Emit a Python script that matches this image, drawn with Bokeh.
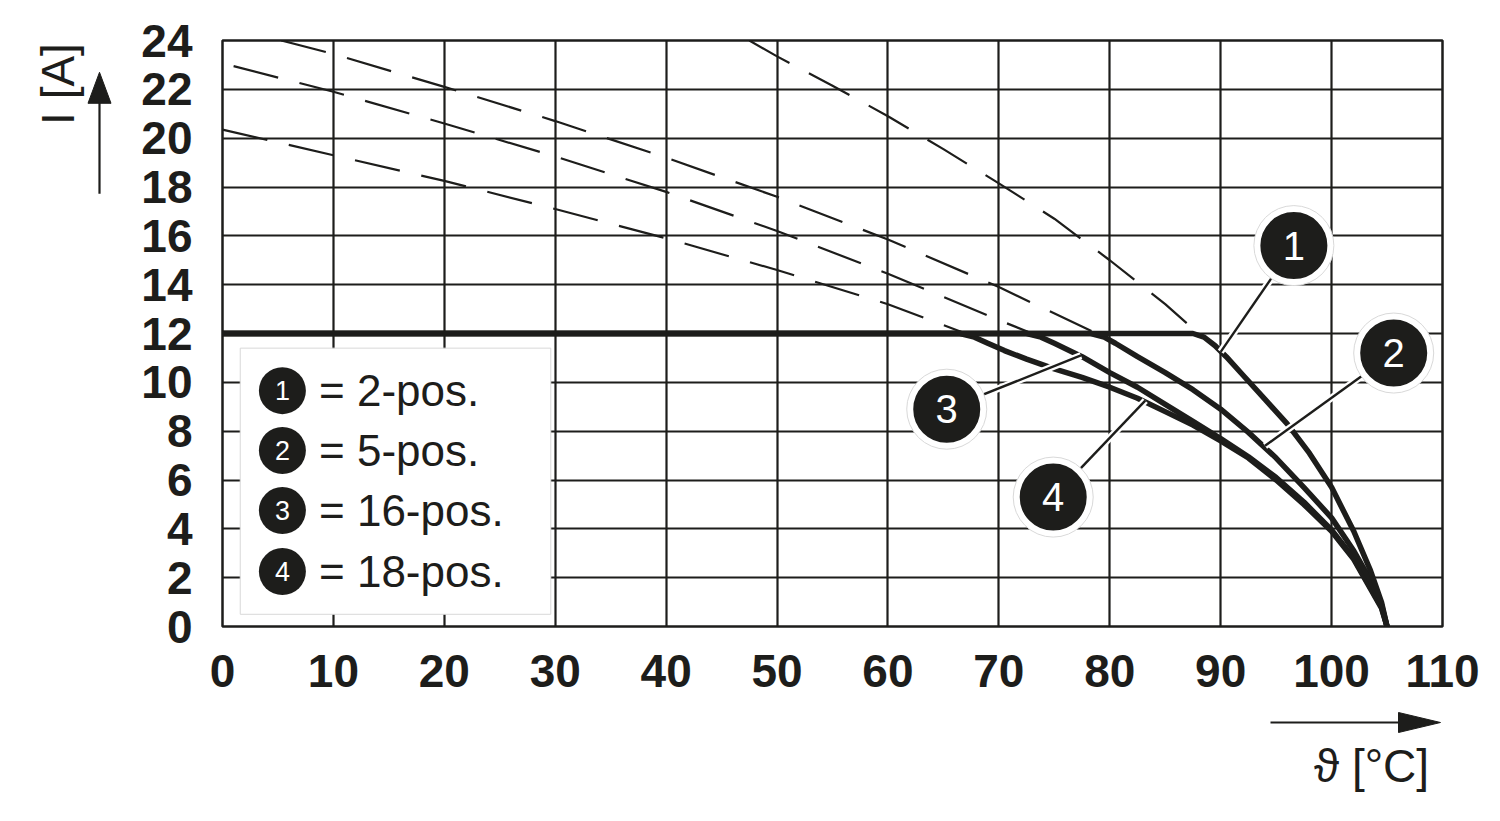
from bokeh.plotting import figure
from bokeh.models import Range1d
from bokeh.layouts import row, column
from bokeh.core.properties import value
from bokeh.embed import file_html
from bokeh.resources import INLINE
import math

# ---------------- data ----------------
temp_ticks = list(range(0, 111, 10))
current_ticks = list(range(0, 25, 2))

# dashed (extrapolated) parts above 12 A
dash1_t = [47.5, 50, 55, 60, 65, 70, 75, 80, 85, 88]
dash1_i = [24.0, 23.35, 22.15, 20.9, 19.55, 18.15, 16.7, 15.0, 13.2, 12.0]
dash2_t = [5.3, 10, 20, 30, 40, 50, 60, 70, 78.8]
dash2_i = [24.0, 23.45, 22.1, 20.7, 19.2, 17.6, 15.85, 13.9, 12.0]
dash3_t = [1, 10, 20, 30, 40, 50, 60, 70, 73]
dash3_i = [22.95, 21.9, 20.6, 19.25, 17.8, 16.2, 14.45, 12.55, 12.0]
dash4_t = [0, 10, 20, 30, 40, 50, 60, 67]
dash4_i = [20.35, 19.3, 18.25, 17.1, 15.9, 14.6, 13.2, 12.0]

# solid derating curves
sol1_t = [0, 87.5, 88.5, 89.5, 90.5, 92, 94, 96, 98, 100, 102, 103.5, 104.5, 105]
sol1_i = [12, 12, 11.85, 11.5, 11.05, 10.3, 9.3, 8.3, 7.1, 5.7, 3.9, 2.3, 1.0, 0]
sol2_t = [0, 78.3, 79.5, 80.5, 82.5, 85, 87.5, 90, 92.5, 95, 97.5, 100, 102, 103.5, 104.5, 105]
sol2_i = [12, 12, 11.85, 11.6, 11.05, 10.4, 9.7, 8.9, 7.95, 6.9, 5.7, 4.45, 3.1, 1.9, 0.9, 0]
sol3_t = [0, 72.5, 73.8, 75, 77.5, 80, 82.5, 85, 87.5, 90, 92.5, 95, 97.5, 100, 102, 103.5, 104.5, 105]
sol3_i = [12, 12, 11.85, 11.6, 11.05, 10.4, 9.8, 9.1, 8.4, 7.7, 6.95, 6.1, 5.1, 3.95, 2.8, 1.6, 0.8, 0]
sol4_t = [0, 66.5, 67.8, 69, 70.5, 72.5, 75, 77.5, 80, 82.5, 85, 87.5, 90, 92.5, 95, 97.5, 100, 102, 103.5, 104.5, 105]
sol4_i = [12, 12, 11.85, 11.6, 11.3, 10.95, 10.55, 10.2, 9.8, 9.35, 8.8, 8.25, 7.6, 6.9, 6.0, 5.0, 3.9, 2.75, 1.55, 0.75, 0]

series_ids = ["1", "2", "3", "4"]
series_names = ["= 2-pos.", "= 5-pos.", "= 16-pos.", "= 18-pos."]

# callout bubbles (position) and leader target on curve
callout_t = [96.6, 105.6, 65.3, 74.9]
callout_i = [15.6, 11.2, 8.9, 5.3]
leader_t = [90.0, 94.0, 77.4, 83.2]
leader_i = [11.25, 7.4, 11.1, 9.25]

INK = "#1d1d1b"
FONT = "Liberation Sans"

LEFT_W = 120
TOTAL_W = 1492
MAIN_H = 700
BOTTOM_H = 113

p = figure(width=TOTAL_W - LEFT_W, height=MAIN_H, output_backend="svg", toolbar_location=None,
           x_range=Range1d(0, 110), y_range=Range1d(0, 24),
           min_border_left=102, min_border_right=50, min_border_top=40, min_border_bottom=74)
p.background_fill_color = "white"
p.border_fill_color = "white"
p.outline_line_color = INK
p.outline_line_width = 2.5

for ax, ticks in ((p.xaxis, temp_ticks), (p.yaxis, current_ticks)):
    ax.ticker = ticks
    ax.axis_line_color = None
    ax.major_tick_line_color = None
    ax.minor_tick_line_color = None
    ax.major_label_text_font = FONT
    ax.major_label_text_font_style = "bold"
    ax.major_label_text_font_size = "46px"
    ax.major_label_text_color = INK
p.xaxis.major_label_standoff = 22
p.yaxis.major_label_standoff = 24

p.xgrid.grid_line_color = INK
p.ygrid.grid_line_color = INK
p.xgrid.grid_line_width = 2.2
p.ygrid.grid_line_width = 2.2
p.xgrid.grid_line_alpha = 1
p.ygrid.grid_line_alpha = 1

# dashed
for t, i in ((dash1_t, dash1_i), (dash2_t, dash2_i), (dash3_t, dash3_i), (dash4_t, dash4_i)):
    p.line(t, i, line_color=INK, line_width=2.2, line_dash="46 22")

# legend box
p.quad(left=[1.6], right=[29.6], bottom=[0.5], top=[11.4], fill_color="white",
       line_color="#d8d8d8", line_width=1)

# solid curves
for t, i in ((sol4_t, sol4_i), (sol3_t, sol3_i), (sol2_t, sol2_i), (sol1_t, sol1_i)):
    p.line(t, i, line_color=INK, line_width=5.5, line_join="round", line_cap="round")

# leaders
p.segment(x0=callout_t, y0=callout_i, x1=leader_t, y1=leader_i, line_color="white", line_width=7)
p.segment(x0=callout_t, y0=callout_i, x1=leader_t, y1=leader_i, line_color=INK, line_width=2.4)

# callout bubbles
p.scatter(callout_t, callout_i, marker="circle", size=80, fill_color="white", line_color="#d9d9d9", line_width=1)
p.scatter(callout_t, callout_i, marker="circle", size=71, fill_color=INK, line_color="white", line_width=4)
p.text(callout_t, callout_i, text=series_ids, text_color="white", text_font=value(FONT),
       text_font_size="40px", text_align="center", text_baseline="middle")

# legend entries
leg_y = [9.66, 7.21, 4.75, 2.25]
leg_x = [5.4] * 4
p.scatter(leg_x, leg_y, marker="circle", size=47, fill_color=INK, line_color=None)
p.text(leg_x, leg_y, text=series_ids, text_color="white", text_font=value(FONT),
       text_font_size="27px", text_align="center", text_baseline="middle")
p.text([8.7] * 4, leg_y, text=series_names, text_color=INK, text_font=value(FONT),
       text_font_size="44px", text_align="left", text_baseline="middle")


def blank(w, h, xr, yr):
    f = figure(width=w, height=h, output_backend="svg", toolbar_location=None,
               x_range=Range1d(*xr), y_range=Range1d(*yr),
               x_axis_type=None, y_axis_type=None,
               min_border_left=0, min_border_right=0, min_border_top=0, min_border_bottom=0)
    f.outline_line_color = None
    f.background_fill_color = "white"
    f.border_fill_color = "white"
    f.xgrid.visible = False
    f.ygrid.visible = False
    return f


# left panel: y-axis title and arrow (pixel coordinates of the panel)
lp = blank(LEFT_W, MAIN_H, (0, LEFT_W), (MAIN_H, 0))
lp.text([57], [52], text=["I [A]"], angle=math.pi / 2, text_align="center", text_baseline="middle",
        text_font=value(FONT), text_font_size="46px", text_color=INK)
lp.segment([99], [183], [99], [70], line_color=INK, line_width=2.2)
lp.patch([99, 87.5, 110.5], [38, 75, 75], fill_color=INK, line_color=INK, line_width=1)

# bottom panel: x-axis title and arrow
bp = blank(TOTAL_W, BOTTOM_H, (0, TOTAL_W), (BOTTOM_H, 0))
bp.segment([1270], [22], [1405], [22], line_color=INK, line_width=2.2)
bp.patch([1440, 1398, 1398], [22, 12, 32], fill_color=INK, line_color=INK, line_width=1)
bp.text([1371], [65], text=["\u03d1 [°C]"], text_align="center", text_baseline="middle",
        text_font=value(FONT), text_font_size="46px", text_color=INK)

layout = column(row(lp, p, spacing=0), bp, spacing=0)

open("out.html", "w").write(file_html(layout, INLINE))
